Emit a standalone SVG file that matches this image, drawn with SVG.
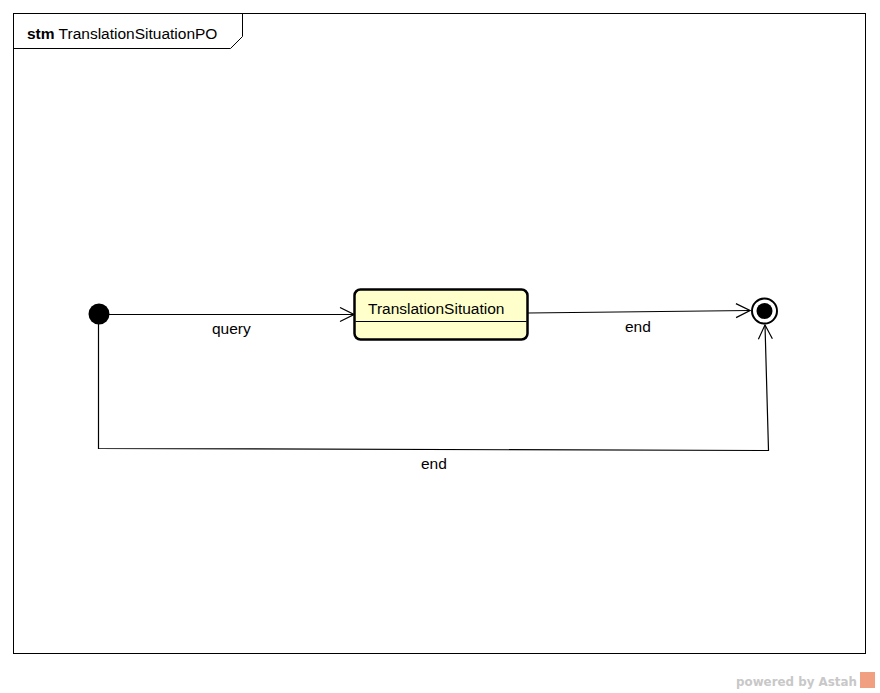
<svg xmlns="http://www.w3.org/2000/svg" width="880" height="693" viewBox="0 0 880 693">
  <style>
    .frame { fill: #ffffff; stroke: #000000; stroke-width: 1; }
    .lbl { font-family: "Liberation Sans", Arial, sans-serif; font-size: 15.5px; fill: #000000; }
    .edge { fill: none; stroke: #000000; stroke-width: 1.2; }
    .state { fill: #ffffcc; stroke: #000000; stroke-width: 2.5; }
    .wm { font-family: "DejaVu Sans", "Open Sans", sans-serif; font-size: 13px; font-weight: bold; fill: #c8c8c8; }
  </style>
  <defs>
    <marker id="open" viewBox="0 0 16 16" refX="15" refY="8" markerWidth="16" markerHeight="16" markerUnits="userSpaceOnUse" orient="auto">
      <path d="M1,1 L15,8 L1,15" fill="none" stroke="#000000" stroke-width="1.2"/>
    </marker>
  </defs>

  <rect width="880" height="693" fill="#ffffff"/>

  <!-- diagram frame with name tab -->
  <g id="frame">
    <rect class="frame" x="13.5" y="13.5" width="852" height="640"/>
    <path d="M13.5,48.5 H230.5 L242.5,36.5 V13.5" fill="none" stroke="#000000" stroke-width="1"/>
    <text class="lbl" x="27" y="39"><tspan font-weight="bold">stm</tspan> TranslationSituationPO</text>
  </g>

  <!-- transitions -->
  <g id="connectors">
    <path class="edge" d="M109,314.5 H354" marker-end="url(#open)"/>
    <text class="lbl" x="212" y="334">query</text>
    <path class="edge" d="M528,313 L750,310.5" marker-end="url(#open)"/>
    <text class="lbl" x="625" y="332">end</text>
    <path class="edge" d="M98.5,324 V448.5 L768.5,450.5 L765,325" marker-end="url(#open)"/>
    <text class="lbl" x="421" y="469">end</text>
  </g>

  <g id="initial">
    <circle cx="99" cy="314" r="10.5" fill="#000000"/>
  </g>

  <g id="TranslationSituation">
    <rect class="state" x="354.5" y="289.5" width="173" height="50" rx="6" ry="6"/>
    <line x1="355.5" y1="321.5" x2="526.5" y2="321.5" stroke="#000000" stroke-width="1"/>
    <text class="lbl" x="368" y="314">TranslationSituation</text>
  </g>

  <g id="final">
    <circle cx="764.5" cy="311" r="12.5" fill="#ffffff" stroke="#000000" stroke-width="2"/>
    <circle cx="764.5" cy="311" r="8" fill="#000000"/>
  </g>

  <!-- tool watermark -->
  <g id="watermark">
    <text class="wm" x="736" y="686" textLength="121" lengthAdjust="spacingAndGlyphs">powered by Astah</text>
    <rect x="860" y="672" width="15" height="16" fill="#f0a080"/>
  </g>
</svg>
